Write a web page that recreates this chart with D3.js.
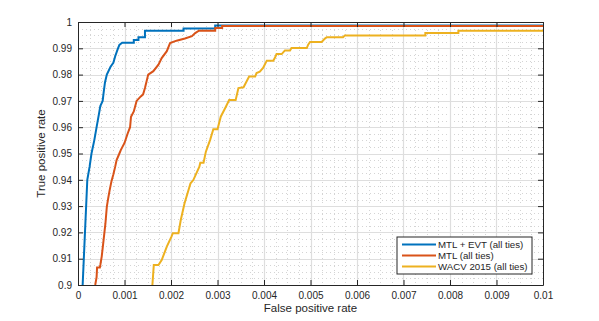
<!DOCTYPE html>
<meta charset="utf-8">
<title>ROC</title>
<style>
body { margin: 0; background: white; font-family: 'Liberation Sans', Helvetica, sans-serif; }
text { fill: #262626; }
</style>
<svg width="599" height="321"></svg>
<script src="https://d3js.org/d3.v7.min.js"></script>
<script>
// series as [false positive rate, true positive rate]
var mtlEvt = [[0.0001,0.9],[0.00015,0.92],[0.0002,0.94],[0.00025,0.945],[0.00029,0.95],[0.00035,0.955],[0.0004,0.96],[0.00045,0.965],[0.00048,0.968],[0.00053,0.97],[0.00055,0.973],[0.00058,0.977],[0.00062,0.98],[0.0007,0.983],[0.00076,0.9845],[0.0008,0.987],[0.00085,0.9895],[0.00089,0.9913],[0.00095,0.9921],[0.0012,0.9921],[0.0012,0.9932],[0.0013,0.9932],[0.0013,0.9942],[0.00144,0.9942],[0.00144,0.9967],[0.00227,0.9967],[0.00227,0.9975],[0.00295,0.9975],[0.00295,0.9987],[0.01,0.9987]];
var mtl = [[0.00037,0.9],[0.0004,0.903],[0.00041,0.9067],[0.00047,0.9067],[0.00048,0.9076],[0.00051,0.9108],[0.00055,0.9171],[0.00059,0.9234],[0.00062,0.9298],[0.00065,0.933],[0.00068,0.936],[0.00072,0.9395],[0.00076,0.942],[0.0008,0.945],[0.00083,0.9475],[0.00089,0.95],[0.00092,0.9513],[0.001,0.954],[0.00107,0.9577],[0.00112,0.96],[0.00114,0.964],[0.0012,0.966],[0.00126,0.97],[0.00135,0.9717],[0.0014,0.9725],[0.00144,0.9749],[0.00151,0.98],[0.00162,0.9813],[0.00173,0.9838],[0.0018,0.9863],[0.00191,0.9889],[0.00198,0.992],[0.00212,0.9929],[0.0023,0.9937],[0.00245,0.9946],[0.00252,0.9958],[0.0026,0.9967],[0.00295,0.9967],[0.00295,0.9977],[0.0031,0.9977],[0.0031,0.9985],[0.01,0.9985]];
var wacv = [[0.0016,0.9],[0.00163,0.9076],[0.00173,0.9076],[0.0018,0.9095],[0.00191,0.9146],[0.00201,0.9184],[0.00204,0.9197],[0.00216,0.9197],[0.00221,0.9247],[0.00229,0.931],[0.00242,0.9387],[0.00248,0.9399],[0.00261,0.945],[0.00263,0.9465],[0.0027,0.9465],[0.00275,0.9507],[0.00284,0.9551],[0.00291,0.9592],[0.003,0.9592],[0.00307,0.964],[0.00318,0.9678],[0.00325,0.9703],[0.00339,0.9703],[0.00345,0.9749],[0.00356,0.9752],[0.00368,0.9793],[0.00381,0.9793],[0.00384,0.9806],[0.00391,0.9811],[0.00398,0.9825],[0.00406,0.9853],[0.0042,0.9853],[0.00424,0.9866],[0.00427,0.9878],[0.00438,0.9878],[0.00445,0.9892],[0.00456,0.9892],[0.00459,0.9901],[0.00492,0.9901],[0.00495,0.9914],[0.00499,0.9924],[0.00524,0.9924],[0.00531,0.9937],[0.00535,0.9942],[0.0057,0.9942],[0.00574,0.9949],[0.00747,0.9949],[0.00747,0.9958],[0.00818,0.9958],[0.00818,0.9967],[0.01,0.9967]];

var seriesNames = ["MTL + EVT (all ties)", "MTL (all ties)", "WACV 2015 (all ties)"];
var seriesColors = ["#0072bd", "#d95319", "#edb120"];
var xTicks = [0, 0.001, 0.002, 0.003, 0.004, 0.005, 0.006, 0.007, 0.008, 0.009, 0.01];
var yTicks = [0.9, 0.91, 0.92, 0.93, 0.94, 0.95, 0.96, 0.97, 0.98, 0.99, 1];
var xLabel = "False positive rate", yLabel = "True positive rate";

var svg = d3.select("svg");
var mLeft = 78, mRight = 543, mTop = 22, mBottom = 285;

var x = d3.scaleLinear().domain([0, 0.01]).range([mLeft, mRight]);
var y = d3.scaleLinear().domain([0.9, 1]).range([mBottom, mTop]);

// minor grid (dotted), 4 subdivisions
var xMinor = d3.range(0, 40).filter(function(i) { return i % 4; }).map(function(i) { return i * 0.00025; });
var yMinor = d3.range(0, 40).filter(function(i) { return i % 4; }).map(function(i) { return 0.9 + i * 0.0025; });
var g = svg.append("g");
g.selectAll(".xm").data(xMinor).enter().append("line")
  .attr("x1", function(d) { return Math.round(x(d)) + 0.5; }).attr("x2", function(d) { return Math.round(x(d)) + 0.5; })
  .attr("y1", mTop).attr("y2", mBottom)
  .attr("stroke", "#d4d4d4").attr("stroke-dasharray", "1,3");
g.selectAll(".ym").data(yMinor).enter().append("line")
  .attr("y1", function(d) { return Math.round(y(d)) + 0.5; }).attr("y2", function(d) { return Math.round(y(d)) + 0.5; })
  .attr("x1", mLeft).attr("x2", mRight)
  .attr("stroke", "#d4d4d4").attr("stroke-dasharray", "1,3");

// major grid
g.selectAll(".xg").data(xTicks.slice(1, -1)).enter().append("line")
  .attr("x1", function(d) { return Math.round(x(d)) + 0.5; }).attr("x2", function(d) { return Math.round(x(d)) + 0.5; })
  .attr("y1", mTop).attr("y2", mBottom).attr("stroke", "#dedede").attr("stroke-width", 1.2);
g.selectAll(".yg").data(yTicks.slice(1, -1)).enter().append("line")
  .attr("y1", function(d) { return Math.round(y(d)) + 0.5; }).attr("y2", function(d) { return Math.round(y(d)) + 0.5; })
  .attr("x1", mLeft).attr("x2", mRight).attr("stroke", "#dedede").attr("stroke-width", 1.2);

// curves
var line = d3.line().x(function(d) { return x(d[0]); }).y(function(d) { return y(d[1]); });
[mtlEvt, mtl, wacv].forEach(function(s, i) {
  svg.append("path").datum(s).attr("d", line)
    .attr("fill", "none").attr("stroke", seriesColors[i]).attr("stroke-width", 2);
});

// axes, ticks inward on all four sides
function axisSet(axis, scale, ticks, fmt) {
  return axis(scale).tickValues(ticks).tickSizeInner(-5).tickSizeOuter(0).tickPadding(8).tickFormat(fmt);
}
var fmtX = function(d) { return d === 0 ? "0" : d3.format(".3~f")(d); };
var fmtY = function(d) { return d === 1 ? "1" : d3.format(".2~f")(d); };
var noText = function() { return ""; };

var ax = svg.append("g").attr("transform", "translate(0," + mBottom + ")").call(axisSet(d3.axisBottom, x, xTicks, fmtX));
var axt = svg.append("g").attr("transform", "translate(0," + mTop + ")").call(axisSet(d3.axisTop, x, xTicks, noText));
var ay = svg.append("g").attr("transform", "translate(" + mLeft + ",0)").call(axisSet(d3.axisLeft, y, yTicks, fmtY));
var ayr = svg.append("g").attr("transform", "translate(" + mRight + ",0)").call(axisSet(d3.axisRight, y, yTicks, noText));
[ax, axt, ay, ayr].forEach(function(a) {
  a.selectAll(".domain").attr("stroke", "#262626");
  a.selectAll(".tick line").attr("stroke", "#262626");
  a.selectAll("text").attr("font-size", 10).attr("font-family", "'Liberation Sans', Helvetica, sans-serif").attr("fill", "#262626");
});
ax.selectAll("text").attr("dy", "0.55em");
ay.selectAll("text").attr("dx", "2");

svg.append("text").attr("x", (mLeft + mRight) / 2).attr("y", 312).attr("text-anchor", "middle")
  .attr("font-size", 11.5).text(xLabel);
svg.append("text").attr("transform", "translate(45," + (mTop + mBottom) / 2 + ") rotate(-90)")
  .attr("text-anchor", "middle").attr("font-size", 11.5).text(yLabel);

// legend
var lg = svg.append("g").attr("transform", "translate(397,237)");
lg.append("rect").attr("width", 135).attr("height", 37).attr("fill", "white").attr("stroke", "#262626");
seriesNames.forEach(function(n, i) {
  var yy = 7.5 + i * 11;
  lg.append("line").attr("x1", 5).attr("x2", 39).attr("y1", yy).attr("y2", yy)
    .attr("stroke", seriesColors[i]).attr("stroke-width", 2);
  lg.append("text").attr("x", 41).attr("y", yy).attr("dy", "0.35em").attr("font-size", 9.7).text(n);
});
</script>
